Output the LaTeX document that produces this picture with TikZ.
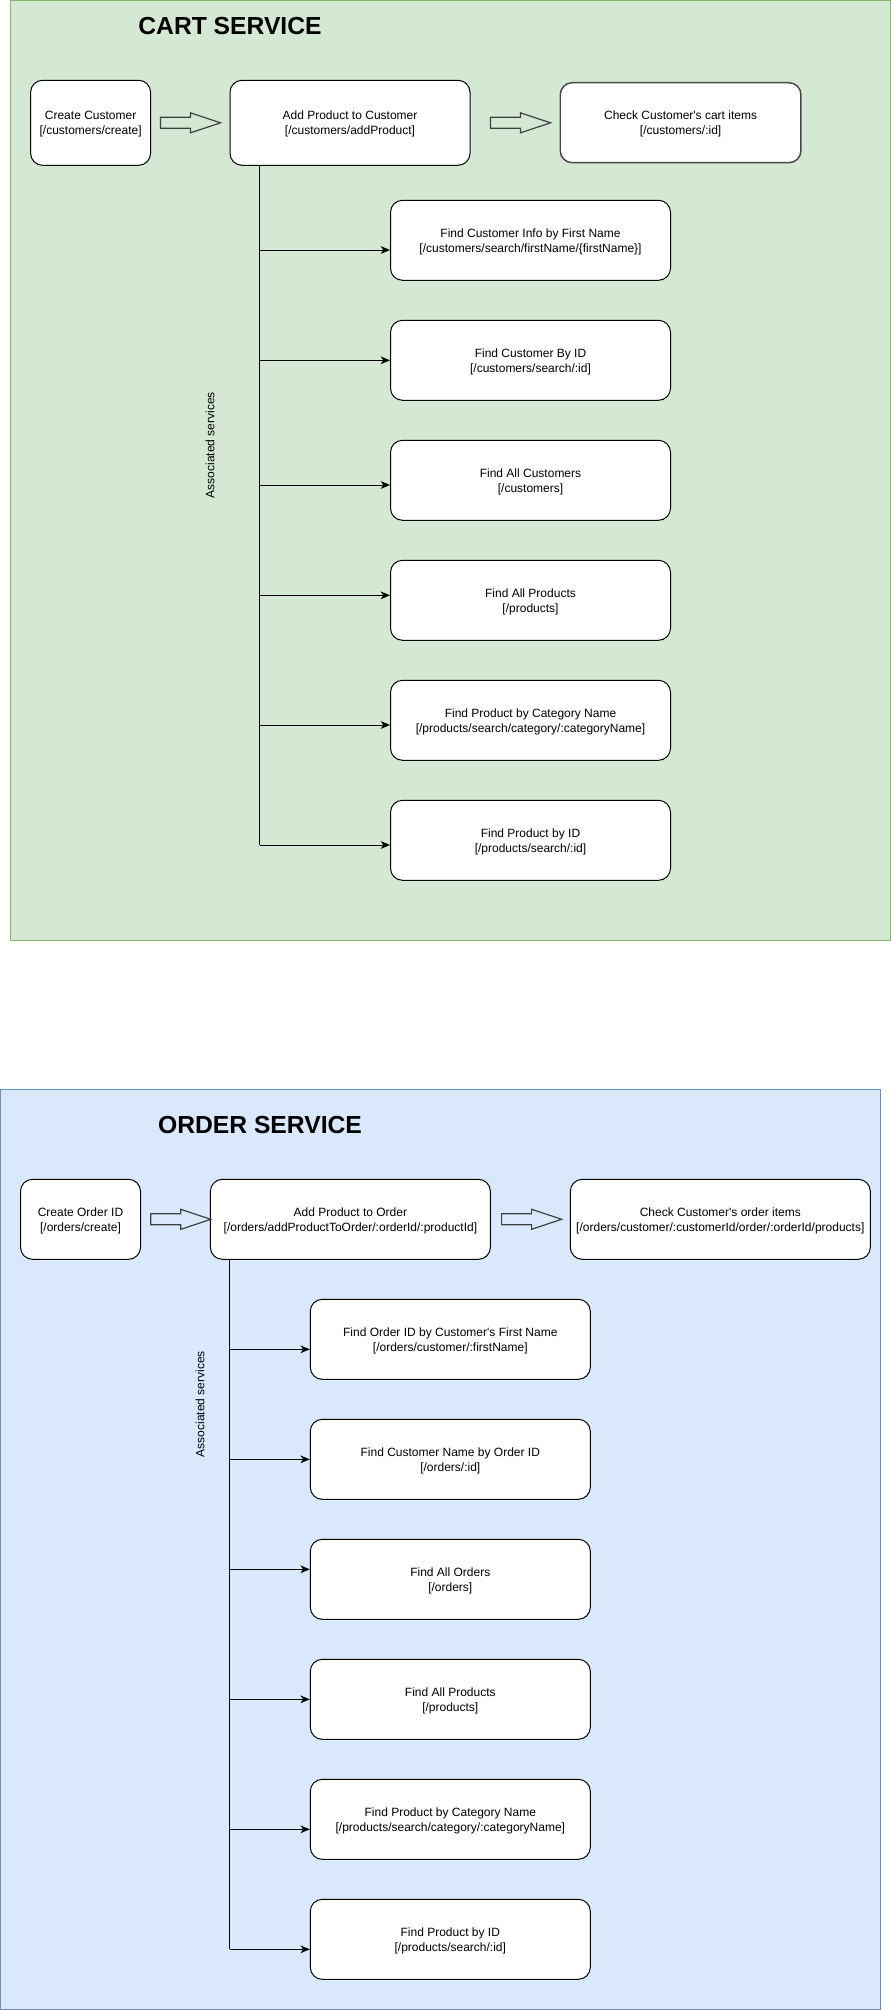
\documentclass[tikz,border=0pt]{standalone}
\usepackage{fontspec}
\newfontfamily\lsans{Liberation Sans}
\usetikzlibrary{arrows.meta,calc}
\definecolor{cartfill}{HTML}{D5E8D4}
\definecolor{cartline}{HTML}{82B366}
\definecolor{ordfill}{HTML}{DAE8FC}
\definecolor{ordline}{HTML}{6C8EBF}
\tikzset{
  box/.style={draw=black, fill=white, rounded corners=9pt, line width=0.75pt,
    inner sep=0pt, align=center, minimum height=60pt, text depth=-0.6pt,
    font=\lsans\fontsize{9}{11.25}\selectfont},
  title/.style={font=\lsans\bfseries\fontsize{18.5}{22}\selectfont, inner sep=0pt},
  vlabel/.style={rotate=90, font=\lsans\fontsize{9}{11}\selectfont, inner sep=0pt},
  trunk/.style={draw=black, line width=0.75pt},
  branch/.style={draw=black, line width=0.75pt, -{Stealth[length=7pt,width=5.8pt,inset=2pt]}},
  blockarrow/.pic={\draw[black!75, line width=0.9pt, line join=miter]
     (0,-5.5) -- (30,-5.5) -- (30,-10) -- (60,0) -- (30,10) -- (30,5.5) -- (0,5.5) -- cycle;}
}
\begin{document}
\begin{tikzpicture}[x=0.75pt, y=-0.75pt]
\useasboundingbox (0,0) rectangle (891,2010);

% ---------------- CART SERVICE ----------------
\draw[fill=cartfill, draw=cartline, line width=0.75pt] (10,0.5) rectangle (890,940);
\node[title] (ctitle) at (230,26) {CART SERVICE};

\node[box, minimum width=120*0.75pt, minimum height=85*0.75pt] (cc) at (90.6,122.8)
  {Create Customer\\{[}/customers/create{]}};
\node[box, minimum width=240*0.75pt, minimum height=85*0.75pt] (addp) at (350,122.8)
  {Add Product to Customer\\{[}/customers/addProduct{]}};
\node[box, draw=black!72, line width=1.1pt, minimum width=240.7*0.75pt, minimum height=80*0.75pt] (chk) at (680.6,122.7)
  {Check Customer's cart items\\{[}/customers/:id{]}};

\pic at ($(cc.east)+(9.4,0)$) {blockarrow};
\pic at ($(addp.east)+(20,0)$) {blockarrow};

\node[box, minimum width=280*0.75pt] (f1) at (530.5,240.3)
  {Find Customer Info by First Name\\{[}/customers/search/firstName/\{firstName\}{]}};
\node[box, minimum width=280*0.75pt] (f2) at (530.5,360.3)
  {Find Customer By ID\\{[}/customers/search/:id{]}};
\node[box, minimum width=280*0.75pt] (f3) at (530.5,480.3)
  {Find All Customers\\{[}/customers{]}};
\node[box, minimum width=280*0.75pt] (f4) at (530.5,600.3)
  {Find All Products\\{[}/products{]}};
\node[box, minimum width=280*0.75pt] (f5) at (530.5,720.3)
  {Find Product by Category Name\\{[}/products/search/category/:categoryName{]}};
\node[box, minimum width=280*0.75pt] (f6) at (530.5,840.3)
  {Find Product by ID\\{[}/products/search/:id{]}};

\coordinate (ctop) at ($(addp.south west)+(30.3,0)$);
\coordinate (a1) at ($(f1.west)+(0,9.7)$);
\coordinate (a2) at ($(f2.west)+(0,0)$);
\coordinate (a3) at ($(f3.west)+(0,4.7)$);
\coordinate (a4) at ($(f4.west)+(0,-5)$);
\coordinate (a5) at ($(f5.west)+(0,4.7)$);
\coordinate (a6) at ($(f6.west)+(0,4.7)$);
\draw[trunk] (ctop) -- (ctop |- a6);
\foreach \a in {a1,a2,a3,a4,a5,a6} \draw[branch] (ctop |- \a) -- (\a);

\node[vlabel] (cas) at (210,445) {Associated services};

% ---------------- ORDER SERVICE ----------------
\draw[fill=ordfill, draw=ordline, line width=0.75pt] (0.5,1089.3) rectangle (880,2009.5);
\node[title] (otitle) at (260,1125) {ORDER SERVICE};

\node[box, minimum width=120*0.75pt, minimum height=80*0.75pt] (co) at (80.5,1219.3)
  {Create Order ID\\{[}/orders/create{]}};
\node[box, minimum width=280*0.75pt, minimum height=80*0.75pt] (addo) at (350.4,1219.3)
  {Add Product to Order\\{[}/orders/addProductToOrder/:orderId/:productId{]}};
\node[box, minimum width=300*0.75pt, minimum height=80*0.75pt] (chko) at (720.3,1219.3)
  {Check Customer's order items\\{[}/orders/customer/:customerId/order/:orderId/products{]}};

\pic at ($(co.east)+(9.7,0)$) {blockarrow};
\pic at ($(addo.east)+(10.7,0)$) {blockarrow};

\node[box, minimum width=280*0.75pt] (g1) at (450.3,1339.3)
  {Find Order ID by Customer's First Name\\{[}/orders/customer/:firstName{]}};
\node[box, minimum width=280*0.75pt] (g2) at (450.3,1459.3)
  {Find Customer Name by Order ID\\{[}/orders/:id{]}};
\node[box, minimum width=280*0.75pt] (g3) at (450.3,1579.3)
  {Find All Orders\\{[}/orders{]}};
\node[box, minimum width=280*0.75pt] (g4) at (450.3,1699.3)
  {Find All Products\\{[}/products{]}};
\node[box, minimum width=280*0.75pt] (g5) at (450.3,1819.3)
  {Find Product by Category Name\\{[}/products/search/category/:categoryName{]}};
\node[box, minimum width=280*0.75pt] (g6) at (450.3,1939.3)
  {Find Product by ID\\{[}/products/search/:id{]}};

\coordinate (otop) at ($(addo.south west)+(19.6,0)$);
\coordinate (b1) at ($(g1.west)+(0,10)$);
\coordinate (b2) at ($(g2.west)+(0,0)$);
\coordinate (b3) at ($(g3.west)+(0,-10)$);
\coordinate (b4) at ($(g4.west)+(0,0)$);
\coordinate (b5) at ($(g5.west)+(0,10)$);
\coordinate (b6) at ($(g6.west)+(0,10)$);
\draw[trunk] (otop) -- (otop |- b6);
\foreach \b in {b1,b2,b3,b4,b5,b6} \draw[branch] (otop |- \b) -- (\b);

\node[vlabel] (oas) at (200,1404) {Associated services};
\end{tikzpicture}
\end{document}
